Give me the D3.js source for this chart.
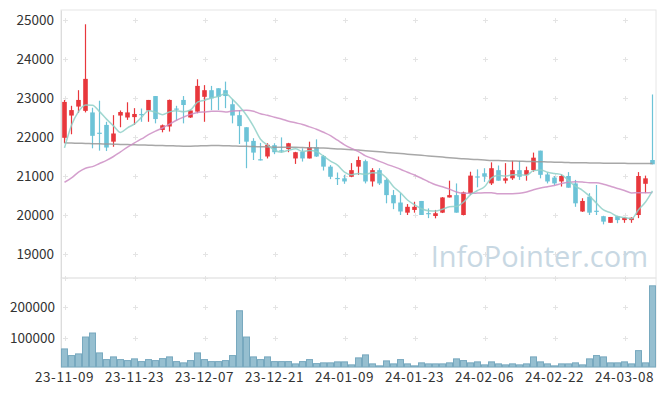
<!DOCTYPE html>
<html>
<head>
<meta charset="utf-8">
<script src="https://cdn.jsdelivr.net/npm/d3@7"></script>
<style>
  body { margin: 0; background: #fff; }
  svg { display: block; font-family: "Noto Sans CJK KR", "Noto Sans", sans-serif; }
</style>
</head>
<body>
<svg id="chart" width="665" height="396"></svg>
<script>
// trading days, yy-mm-dd
var dates = [
  '23-11-09','23-11-10','23-11-13','23-11-14','23-11-15','23-11-16','23-11-17','23-11-20','23-11-21','23-11-22',
  '23-11-23','23-11-24','23-11-27','23-11-28','23-11-29','23-11-30','23-12-01','23-12-04','23-12-05','23-12-06',
  '23-12-07','23-12-08','23-12-11','23-12-12','23-12-13','23-12-14','23-12-15','23-12-18','23-12-19','23-12-20',
  '23-12-21','23-12-22','23-12-26','23-12-27','23-12-28','24-01-02','24-01-03','24-01-04','24-01-05','24-01-08',
  '24-01-09','24-01-10','24-01-11','24-01-12','24-01-15','24-01-16','24-01-17','24-01-18','24-01-19','24-01-22',
  '24-01-23','24-01-24','24-01-25','24-01-26','24-01-29','24-01-30','24-01-31','24-02-01','24-02-02','24-02-05',
  '24-02-06','24-02-07','24-02-08','24-02-13','24-02-14','24-02-15','24-02-16','24-02-19','24-02-20','24-02-21',
  '24-02-22','24-02-23','24-02-26','24-02-27','24-02-28','24-02-29','24-03-04','24-03-05','24-03-06','24-03-07',
  '24-03-08','24-03-11','24-03-12','24-03-13','24-03-14'
];

var opens = [
  21980,22550,22780,22670,22630,22110,22310,21880,22550,22500,
  22510,22590,22680,23050,22180,22270,22730,22950,22500,22650,
  23030,23200,23250,23200,22840,22560,22250,21900,21430,21500,
  21790,21660,21690,21450,21620,21450,21740,21510,21240,20950,
  20940,20980,21240,21380,20860,21150,20900,20510,20320,20060,
  20130,20360,20050,19975,20060,20450,20510,20000,20560,20990,
  21070,20810,21150,20880,20940,21150,21030,21150,21650,21040,
  20960,20860,21000,20810,20090,20470,20110,19970,19800,19970,
  19870,19870,20000,20800,21410
];
var highs = [
  22950,22800,23200,24890,22750,22930,22390,22560,22680,22890,
  22740,22730,22950,23050,22320,22960,22800,23050,22700,23480,
  23330,23310,23250,23420,22970,22690,22250,21970,21850,21840,
  21840,21990,21850,21620,21710,21880,21940,21540,21280,21090,
  21030,21330,21500,21420,21200,21200,20940,20640,20560,20280,
  20340,20360,20170,20130,20460,20880,20810,20600,21110,21170,
  21200,21350,21270,21330,21390,21390,21240,21600,21650,21090,
  21000,21040,21100,20900,20430,20560,20770,19980,19950,19980,
  19940,19940,21100,21010,23090
];
var lows = [
  21840,22070,22620,22630,21710,21650,21640,21750,22250,22440,
  22310,22390,22390,22350,22120,22140,22420,22350,22490,22610,
  22390,22690,22690,22740,22350,21820,21200,21410,21400,21450,
  21560,21600,21610,21310,21370,21450,21490,21140,20920,20770,
  20800,20970,21030,20810,20730,20770,20300,20150,20000,20000,
  20060,20000,19920,19915,20050,20450,20060,19990,20510,20710,
  20850,20770,20880,20810,20900,20900,20880,21110,20940,20810,
  20770,20730,20700,20210,20080,20000,20000,19760,19800,19790,
  19800,19800,19920,20560,21300
];
var closes = [
  22900,22690,22950,23490,22030,22090,21730,22090,22640,22630,
  22590,22560,22950,22460,22300,22950,22710,22820,22680,23310,
  23200,22990,23030,23050,22550,22280,21880,21600,21410,21800,
  21610,21640,21840,21610,21450,21740,21500,21240,20980,20930,
  20860,21150,21410,20860,21150,20810,20510,20300,20090,20210,
  20210,20000,20040,20045,20450,20510,20060,20580,21010,20980,
  20985,21200,20880,20940,21150,20980,21150,21470,21030,20860,
  20810,21000,20700,20300,20360,20060,20100,19830,19950,19870,
  19930,19930,21000,20940,21300
];
var volumes = [
  64500,43000,48400,103000,116000,51600,30000,38700,30000,26800,
  32300,23500,30000,26800,33200,38700,23500,19400,26800,51600,
  30000,23500,23500,26800,43000,188000,103000,38700,30000,38700,
  23500,23500,23500,16100,23500,30000,17000,19400,19400,22600,
  22600,12900,35500,45200,16100,9700,25800,16100,30000,16100,
  9700,19400,16100,16100,16100,19400,32300,26800,19400,22600,
  12900,22600,16100,12900,16100,12900,16100,38700,22600,16100,
  9700,16100,16100,19400,12900,32300,43000,38700,19400,19400,
  22600,16100,59000,19400,268700
];
var ma5 = [
  21720,22300,22650,22820,22813,22650,22458,22286,22116,22236,
  22336,22502,22674,22638,22572,22644,22674,22648,22692,22894,
  22944,23000,23042,23116,22964,22780,22558,22272,21944,21794,
  21660,21612,21660,21700,21630,21656,21628,21508,21382,21278,
  21102,21032,21066,21042,21086,21076,20948,20726,20572,20384,
  20264,20162,20110,20101,20149,20209,20221,20329,20522,20628,
  20723,20951,21011,20997,21031,21030,21020,21138,21156,21098,
  21064,21034,20880,20734,20634,20484,20304,20130,20060,19962,
  19936,19902,20136,20334,20620
];
var ma20 = [
  20840,20950,21100,21200,21240,21320,21400,21500,21620,21740,
  21850,21950,22060,22150,22230,22330,22430,22510,22580,22629,
  22644,22659,22663,22641,22667,22676,22684,22659,22598,22556,
  22507,22461,22406,22363,22321,22260,22200,22121,22036,21917,
  21800,21708,21627,21517,21447,21374,21305,21240,21174,21095,
  21025,20943,20853,20774,20724,20663,20591,20558,20559,20562,
  20568,20571,20544,20548,20548,20557,20589,20647,20694,20727,
  20757,20807,20840,20852,20848,20825,20827,20790,20737,20681,
  20629,20565,20571,20571,20579
];
var ma60 = [
  21850,21845,21840,21835,21830,21825,21820,21815,21810,21805,
  21800,21795,21790,21785,21780,21775,21770,21765,21765,21770,
  21775,21780,21780,21775,21770,21765,21760,21755,21750,21745,
  21740,21740,21735,21735,21730,21725,21720,21715,21705,21695,
  21685,21675,21665,21650,21635,21620,21605,21590,21575,21560,
  21545,21530,21515,21500,21485,21470,21455,21440,21430,21420,
  21410,21400,21395,21390,21385,21380,21375,21370,21365,21360,
  21355,21350,21345,21340,21340,21335,21335,21330,21330,21325,
  21325,21320,21320,21320,21320
];
var priceTicks = [19000, 20000, 21000, 22000, 23000, 24000, 25000];
var volumeTicks = [100000, 200000];
var labelEvery = 10;

var conf = {
  left: 61, right: 656,
  priceTop: 10, priceBottom: 278,
  volTop: 278, volBottom: 367,
  up: '#e8373c', down: '#6cc3d7',
  grid: '#e4e4e4'
};

var svg = d3.select('#chart');

var x = d3.scaleBand()
  .domain(dates)
  .range([conf.left, conf.right])
  .padding(0);
var bw = x.bandwidth();
var cx = function(i) { return x(dates[i]) + bw / 2; };

var yPrice = d3.scaleLinear()
  .domain([18385, 25256])
  .range([conf.priceBottom, conf.priceTop]);
var yVol = d3.scaleLinear()
  .domain([6000, 294000])
  .range([conf.volBottom, conf.volTop]);

// panel frames
svg.append('rect')
  .attr('x', conf.left).attr('y', conf.priceTop)
  .attr('width', conf.right - conf.left).attr('height', conf.priceBottom - conf.priceTop)
  .attr('fill', 'none').attr('stroke', '#e6e6e6');
svg.append('rect')
  .attr('x', conf.left).attr('y', conf.volTop)
  .attr('width', conf.right - conf.left).attr('height', conf.volBottom - conf.volTop)
  .attr('fill', 'none').attr('stroke', '#e6e6e6');

// small cross grid marks
var tickIdx = d3.range(0, dates.length, labelEvery);
function crosses(ys) {
  var g = svg.append('g').attr('stroke', conf.grid).attr('stroke-width', 1);
  tickIdx.forEach(function(i) {
    ys.forEach(function(yy) {
      var px = Math.round(cx(i)) + 0.5, py = Math.round(yy) + 0.5;
      g.append('line').attr('x1', px - 2.5).attr('x2', px + 2.5).attr('y1', py).attr('y2', py);
      g.append('line').attr('x1', px).attr('x2', px).attr('y1', py - 2.5).attr('y2', py + 2.5);
    });
  });
}
crosses(priceTicks.map(yPrice));
crosses(volumeTicks.map(yVol).concat([conf.volTop]));

// watermark
svg.append('text')
  .attr('x', 648).attr('y', 267)
  .attr('text-anchor', 'end')
  .attr('font-family', '"Open Sans", "Noto Sans", sans-serif')
  .attr('font-size', 29)
  .attr('fill', '#c8d8e3')
  .text('InfoPointer.com');

// y axes
var axisPrice = svg.append('g')
  .attr('transform', 'translate(' + conf.left + ',0)')
  .call(d3.axisLeft(yPrice).tickValues(priceTicks).tickSize(0).tickPadding(7).tickFormat(d3.format('d')));
var axisVol = svg.append('g')
  .attr('transform', 'translate(' + conf.left + ',0)')
  .call(d3.axisLeft(yVol).tickValues(volumeTicks).tickSize(0).tickPadding(6).tickFormat(d3.format('d')));
var axisX = svg.append('g')
  .attr('transform', 'translate(0,' + conf.volBottom + ')')
  .call(d3.axisBottom(x).tickValues(tickIdx.map(function(i) { return dates[i]; })).tickSize(0).tickPadding(5));

[axisPrice, axisVol, axisX].forEach(function(a) {
  a.select('.domain').attr('stroke', '#dcdcdc');
  a.selectAll('text')
    .attr('fill', '#333')
    .attr('font-size', 13.5)
    .attr('font-family', '"Noto Sans CJK KR", "Noto Sans", sans-serif');
});
axisX.select('.domain').remove();
axisX.selectAll('text').attr('letter-spacing', 0.6);

// volume bars
svg.append('g').selectAll('rect')
  .data(volumes)
  .join('rect')
  .attr('x', function(d, i) { return x(dates[i]) + 0.5; })
  .attr('width', bw - 1)
  .attr('y', function(d) { return yVol(d); })
  .attr('height', function(d) { return conf.volBottom - yVol(d); })
  .attr('fill', '#96bfd0')
  .attr('stroke', '#78a9bf')
  .attr('stroke-width', 1);

// candles
var bodyW = 4.6;
var candles = svg.append('g').selectAll('g')
  .data(dates.map(function(d, i) {
    return { i: i, o: opens[i], h: highs[i], l: lows[i], c: closes[i] };
  }))
  .join('g')
  .attr('fill', function(d) { return d.c >= d.o ? conf.up : conf.down; })
  .attr('stroke', function(d) { return d.c >= d.o ? conf.up : conf.down; });

candles.append('line')
  .attr('x1', function(d) { return cx(d.i); })
  .attr('x2', function(d) { return cx(d.i); })
  .attr('y1', function(d) { return yPrice(d.h); })
  .attr('y2', function(d) { return yPrice(d.l); })
  .attr('stroke-width', 1.2);

candles.append('rect')
  .attr('x', function(d) { return cx(d.i) - bodyW / 2; })
  .attr('width', bodyW)
  .attr('y', function(d) { return yPrice(Math.max(d.o, d.c)); })
  .attr('height', function(d) { return Math.max(1.2, Math.abs(yPrice(d.o) - yPrice(d.c))); })
  .attr('stroke', 'none');

// moving averages
function drawLine(values, color, width) {
  var line = d3.line()
    .x(function(d, i) { return cx(i); })
    .y(function(d) { return yPrice(d); })
    .curve(d3.curveMonotoneX);
  svg.append('path')
    .datum(values)
    .attr('d', line)
    .attr('fill', 'none')
    .attr('stroke', color)
    .attr('stroke-width', width)
    .attr('stroke-opacity', 0.85);
}
drawLine(ma60, '#999999', 1.5);
drawLine(ma20, '#cc8ec4', 1.5);
drawLine(ma5, '#8fd0c8', 1.5);
</script>
</body>
</html>
